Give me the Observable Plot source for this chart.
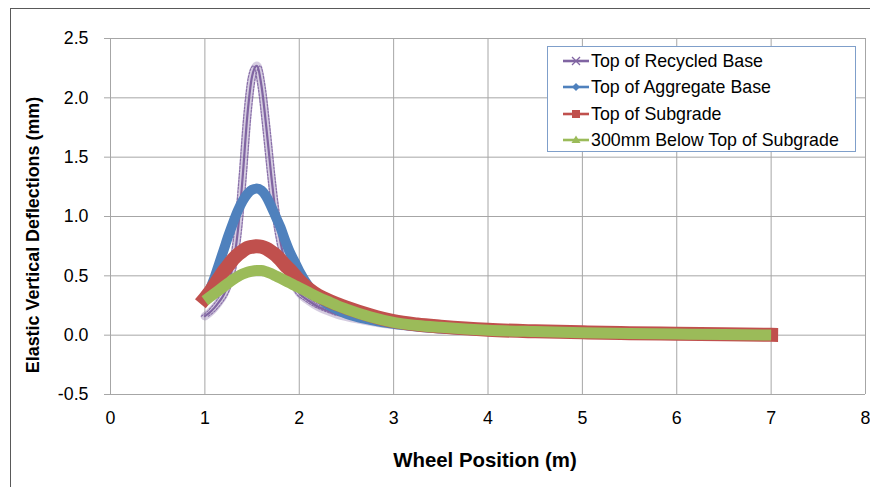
<!DOCTYPE html>
<html>
<head>
<meta charset="utf-8">
<script src="https://cdn.jsdelivr.net/npm/d3@7"></script>
<script src="https://cdn.jsdelivr.net/npm/@observablehq/plot@0.6"></script>
<style>
  body { margin: 0; background: #fff; }
  #wrap { position: relative; width: 870px; height: 487px; overflow: hidden; font-family: "Liberation Sans", Arial, sans-serif; background:#fff; }
  #border { position: absolute; left: 10px; top: 8px; width: 900px; height: 600px; border: 1px solid #595959; box-sizing: border-box; pointer-events: none; }
  #chart { position: absolute; left: 0; top: 0; }
  .ttl { position: absolute; font-weight: bold; color: #000; white-space: nowrap; }
  #ytitle { left: 33px; top: 235px; font-size: 17.9px; transform: translate(-50%, -50%) rotate(-90deg); }
  #xtitle { left: 485px; top: 460px; font-size: 20.4px; transform: translate(-50%, -50%); }
  #legend { position: absolute; left: 547px; top: 46px; width: 309px; height: 106px; border: 1px solid #7f9fca; background: #fff; box-sizing: border-box; }
  .row { position: absolute; left: 14px; height: 22px; display: flex; align-items: center; font-size: 17.8px; color: #000; white-space: nowrap; }
  .row svg { margin-right: 1px; }
</style>
</head>
<body>
<div id="wrap">
  <div id="border"></div>
  <div id="chart"></div>
  <div id="ytitle" class="ttl">Elastic Vertical Deflections (mm)</div>
  <div id="xtitle" class="ttl">Wheel Position (m)</div>
  <div id="legend"></div>
</div>
<script>
// ---- data ----
const seriesNames = ["Top of Recycled Base", "Top of Aggregate Base", "Top of Subgrade", "300mm Below Top of Subgrade"];
const seriesColors = ["#8064A2", "#4F81BD", "#C0504D", "#9BBB59"];
const xTicks = [0, 1, 2, 3, 4, 5, 6, 7, 8];
const yTicks = [-0.5, 0, 0.5, 1.0, 1.5, 2.0, 2.5];

const positions = [1.00,1.05,1.10,1.15,1.20,1.25,1.30,1.35,1.40,1.45,1.50,1.55,1.60,1.65,1.70,1.75,1.80,1.85,1.90,1.95,
                   2.00,2.10,2.20,2.30,2.40,2.50,2.75,3.00,3.25,3.50,4.00,4.50,5.00,5.50,6.00,6.50,7.00];

const recycledBase = [0.16,0.19,0.23,0.28,0.34,0.44,0.60,0.88,1.33,1.85,2.18,2.27,2.10,1.76,1.37,1.03,0.79,0.62,0.51,0.42,
                      0.355,0.29,0.24,0.205,0.175,0.155,0.115,0.085,0.065,0.05,0.03,0.02,0.014,0.01,0.006,0.003,0.0];
const aggregateBase = [0.30,0.38,0.48,0.60,0.72,0.84,0.95,1.05,1.13,1.19,1.225,1.235,1.22,1.17,1.09,1.00,0.91,0.80,0.70,0.62,
                       0.54,0.41,0.32,0.26,0.215,0.18,0.13,0.095,0.072,0.056,0.036,0.025,0.017,0.011,0.007,0.003,0.0];
const subgrade = [0.31,0.36,0.42,0.48,0.54,0.59,0.64,0.68,0.71,0.735,0.745,0.75,0.745,0.73,0.705,0.675,0.635,0.59,0.55,0.505,
                  0.46,0.39,0.335,0.295,0.262,0.232,0.168,0.118,0.09,0.072,0.045,0.032,0.024,0.017,0.012,0.007,0.003];
const belowSubgrade = [0.29,0.32,0.35,0.38,0.41,0.44,0.47,0.495,0.515,0.53,0.54,0.545,0.545,0.535,0.52,0.50,0.48,0.46,0.44,0.42,
                       0.40,0.36,0.32,0.285,0.25,0.22,0.155,0.108,0.082,0.066,0.042,0.03,0.021,0.014,0.009,0.005,0.001];

const seriesValues = [recycledBase, aggregateBase, subgrade, belowSubgrade];
const rows = seriesValues.map((vals, i) => positions.map((x, j) => ({x, y: vals[j], s: seriesNames[i]})));

const font = '"Liberation Sans", Arial, sans-serif';
const purple = rows[0];

const chart = Plot.plot({
  width: 870,
  height: 487,
  marginLeft: 110,
  marginRight: 5,
  marginTop: 38,
  marginBottom: 93,
  style: { fontFamily: font, fontSize: "17.8px", background: "transparent", color: "#000" },
  x: { domain: [0, 8], ticks: xTicks },
  y: { domain: [-0.5, 2.5], ticks: yTicks },
  marks: [
    Plot.gridX(xTicks, { stroke: "#a6a6a6", strokeOpacity: 1, strokeWidth: 1 }),
    Plot.gridY(yTicks, { stroke: "#a6a6a6", strokeOpacity: 1, strokeWidth: 1 }),
    Plot.axisX(xTicks, { tickSize: 0, tickPadding: 17, label: null, tickFormat: d => String(d), fontSize: 17.8 }),
    Plot.axisY(yTicks, { tickSize: 6, tickPadding: 16, label: null, tickFormat: d => d.toFixed(1), stroke: "#a6a6a6", fontSize: 17.8 }),
    // Top of Recycled Base: dense "x" markers approximated by a translucent band, dashed edges and a centre line
    Plot.line(purple, { x: "x", y: "y", stroke: seriesColors[0], strokeWidth: 8.5, strokeOpacity: 0.33, curve: "monotone-x", strokeLinejoin: "round" }),
    Plot.line(purple, { x: "x", y: "y", stroke: seriesColors[0], strokeWidth: 1.2, strokeOpacity: 0.9, dx: -3.5, curve: "monotone-x", strokeDasharray: "2,1.5" }),
    Plot.line(purple, { x: "x", y: "y", stroke: seriesColors[0], strokeWidth: 1.2, strokeOpacity: 0.9, dx: 3.5, curve: "monotone-x", strokeDasharray: "2,1.5" }),
    Plot.line(purple, { x: "x", y: "y", stroke: seriesColors[0], strokeWidth: 2.2, curve: "monotone-x" }),
    // Top of Aggregate Base
    Plot.line(rows[1], { x: "x", y: "y", stroke: seriesColors[1], strokeWidth: 10, curve: "monotone-x", strokeLinejoin: "round", strokeLinecap: "butt" }),
    // Top of Subgrade
    Plot.line(rows[2], { x: "x", y: "y", stroke: seriesColors[2], strokeWidth: 14, curve: "monotone-x", strokeLinejoin: "round", strokeLinecap: "square" }),
    // 300mm Below Top of Subgrade
    Plot.line(rows[3], { x: "x", y: "y", stroke: seriesColors[3], strokeWidth: 11, curve: "monotone-x", strokeLinejoin: "round", strokeLinecap: "butt" })
  ]
});
document.getElementById("chart").appendChild(chart);

// ---- legend ----
const legend = document.getElementById("legend");
const markerSvg = [
  c => `<line x1="9" y1="7" x2="17" y2="15" stroke="${c}" stroke-width="1.2"/><line x1="17" y1="7" x2="9" y2="15" stroke="${c}" stroke-width="1.2"/>`,
  c => `<polygon points="13,7 17,11 13,15 9,11" fill="${c}"/>`,
  c => `<rect x="9" y="7" width="8" height="8" fill="${c}"/>`,
  c => `<polygon points="13,6.5 17.5,14 8.5,14" fill="${c}"/>`
];
const rowTops = [3, 29, 56, 82];
seriesNames.forEach((name, i) => {
  const row = document.createElement("div");
  row.className = "row";
  row.style.top = rowTops[i] + "px";
  row.innerHTML = `<svg width="28" height="22" viewBox="0 0 26 22"><line x1="0" y1="11" x2="26" y2="11" stroke="${seriesColors[i]}" stroke-width="2.6"/>${markerSvg[i](seriesColors[i])}</svg><span>${name}</span>`;
  legend.appendChild(row);
});
</script>
</body>
</html>
